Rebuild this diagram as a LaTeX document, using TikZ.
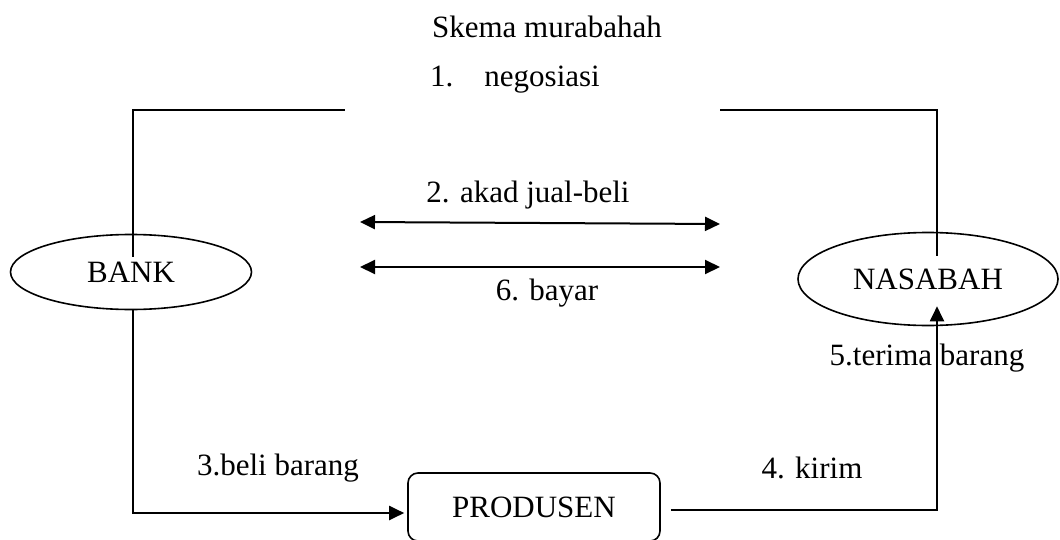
\documentclass[tikz,border=0pt]{standalone}
\usepackage{fontspec}
\setmainfont{Liberation Serif}
\usetikzlibrary{shapes.geometric,arrows.meta}
\tikzset{
  pihak/.style={draw,ellipse,line width=0.8pt,inner sep=0pt},
  garis/.style={line width=1pt},
  panah/.style={line width=1pt,-{Triangle[length=7.5pt,width=7pt]}},
  duapanah/.style={line width=1pt,{Triangle[length=7.5pt,width=7pt]}-{Triangle[length=7.5pt,width=7pt]}}
}
\begin{document}
\begin{tikzpicture}[x=0.5pt,y=-0.5pt,font=\fontsize{15.5pt}{18pt}\selectfont]
\useasboundingbox (0,0) rectangle (1060,540);
\node (judul) at (547,27) {Skema murabahah};
\node (nego) at (515,80) {1.\quad negosiasi};
\node[pihak,minimum width=120.5pt,minimum height=37.5pt] (bank) at (131,272) {BANK};
\node[pihak,minimum width=130pt,minimum height=46.5pt] (nasabah) at (928,279) {NASABAH};
\node[draw,rounded corners=5pt,line width=0.8pt,minimum width=126pt,minimum height=34pt,inner sep=0pt] (produsen) at (534,507) {PRODUSEN};
\coordinate (negoki) at (345,110);
\coordinate (negoka) at (720,110);
\coordinate (akadki) at (360,222);
\coordinate (akadka) at (720,224);
\coordinate (bayarki) at (360,267);
\coordinate (bayarka) at (720,267);
% negosiasi
\draw[garis] ([shift={(2,23)}]bank.north) |- (negoki);
\draw[garis] ([shift={(9,24)}]nasabah.north) |- (negoka);
% akad dan bayar
\draw[duapanah] (akadki) -- (akadka);
\draw[duapanah] (bayarki) -- (bayarka);
\node (akad) at (528,195) {2. akad jual-beli};
\node (bayar) at (547,293) {6. bayar};
% barang
\draw[panah] ([shift={(2,0)}]bank.south) |- ([shift={(-3,6)}]produsen.west);
\draw[panah] ([shift={(10,3)}]produsen.east) -| ([shift={(9,-20)}]nasabah.south);
\node (beli) at (278,468) {3.beli barang};
\node (kirim) at (812,468) {4. kirim};
\node (terima) at (927,358) {5.terima barang};
\end{tikzpicture}
\end{document}
